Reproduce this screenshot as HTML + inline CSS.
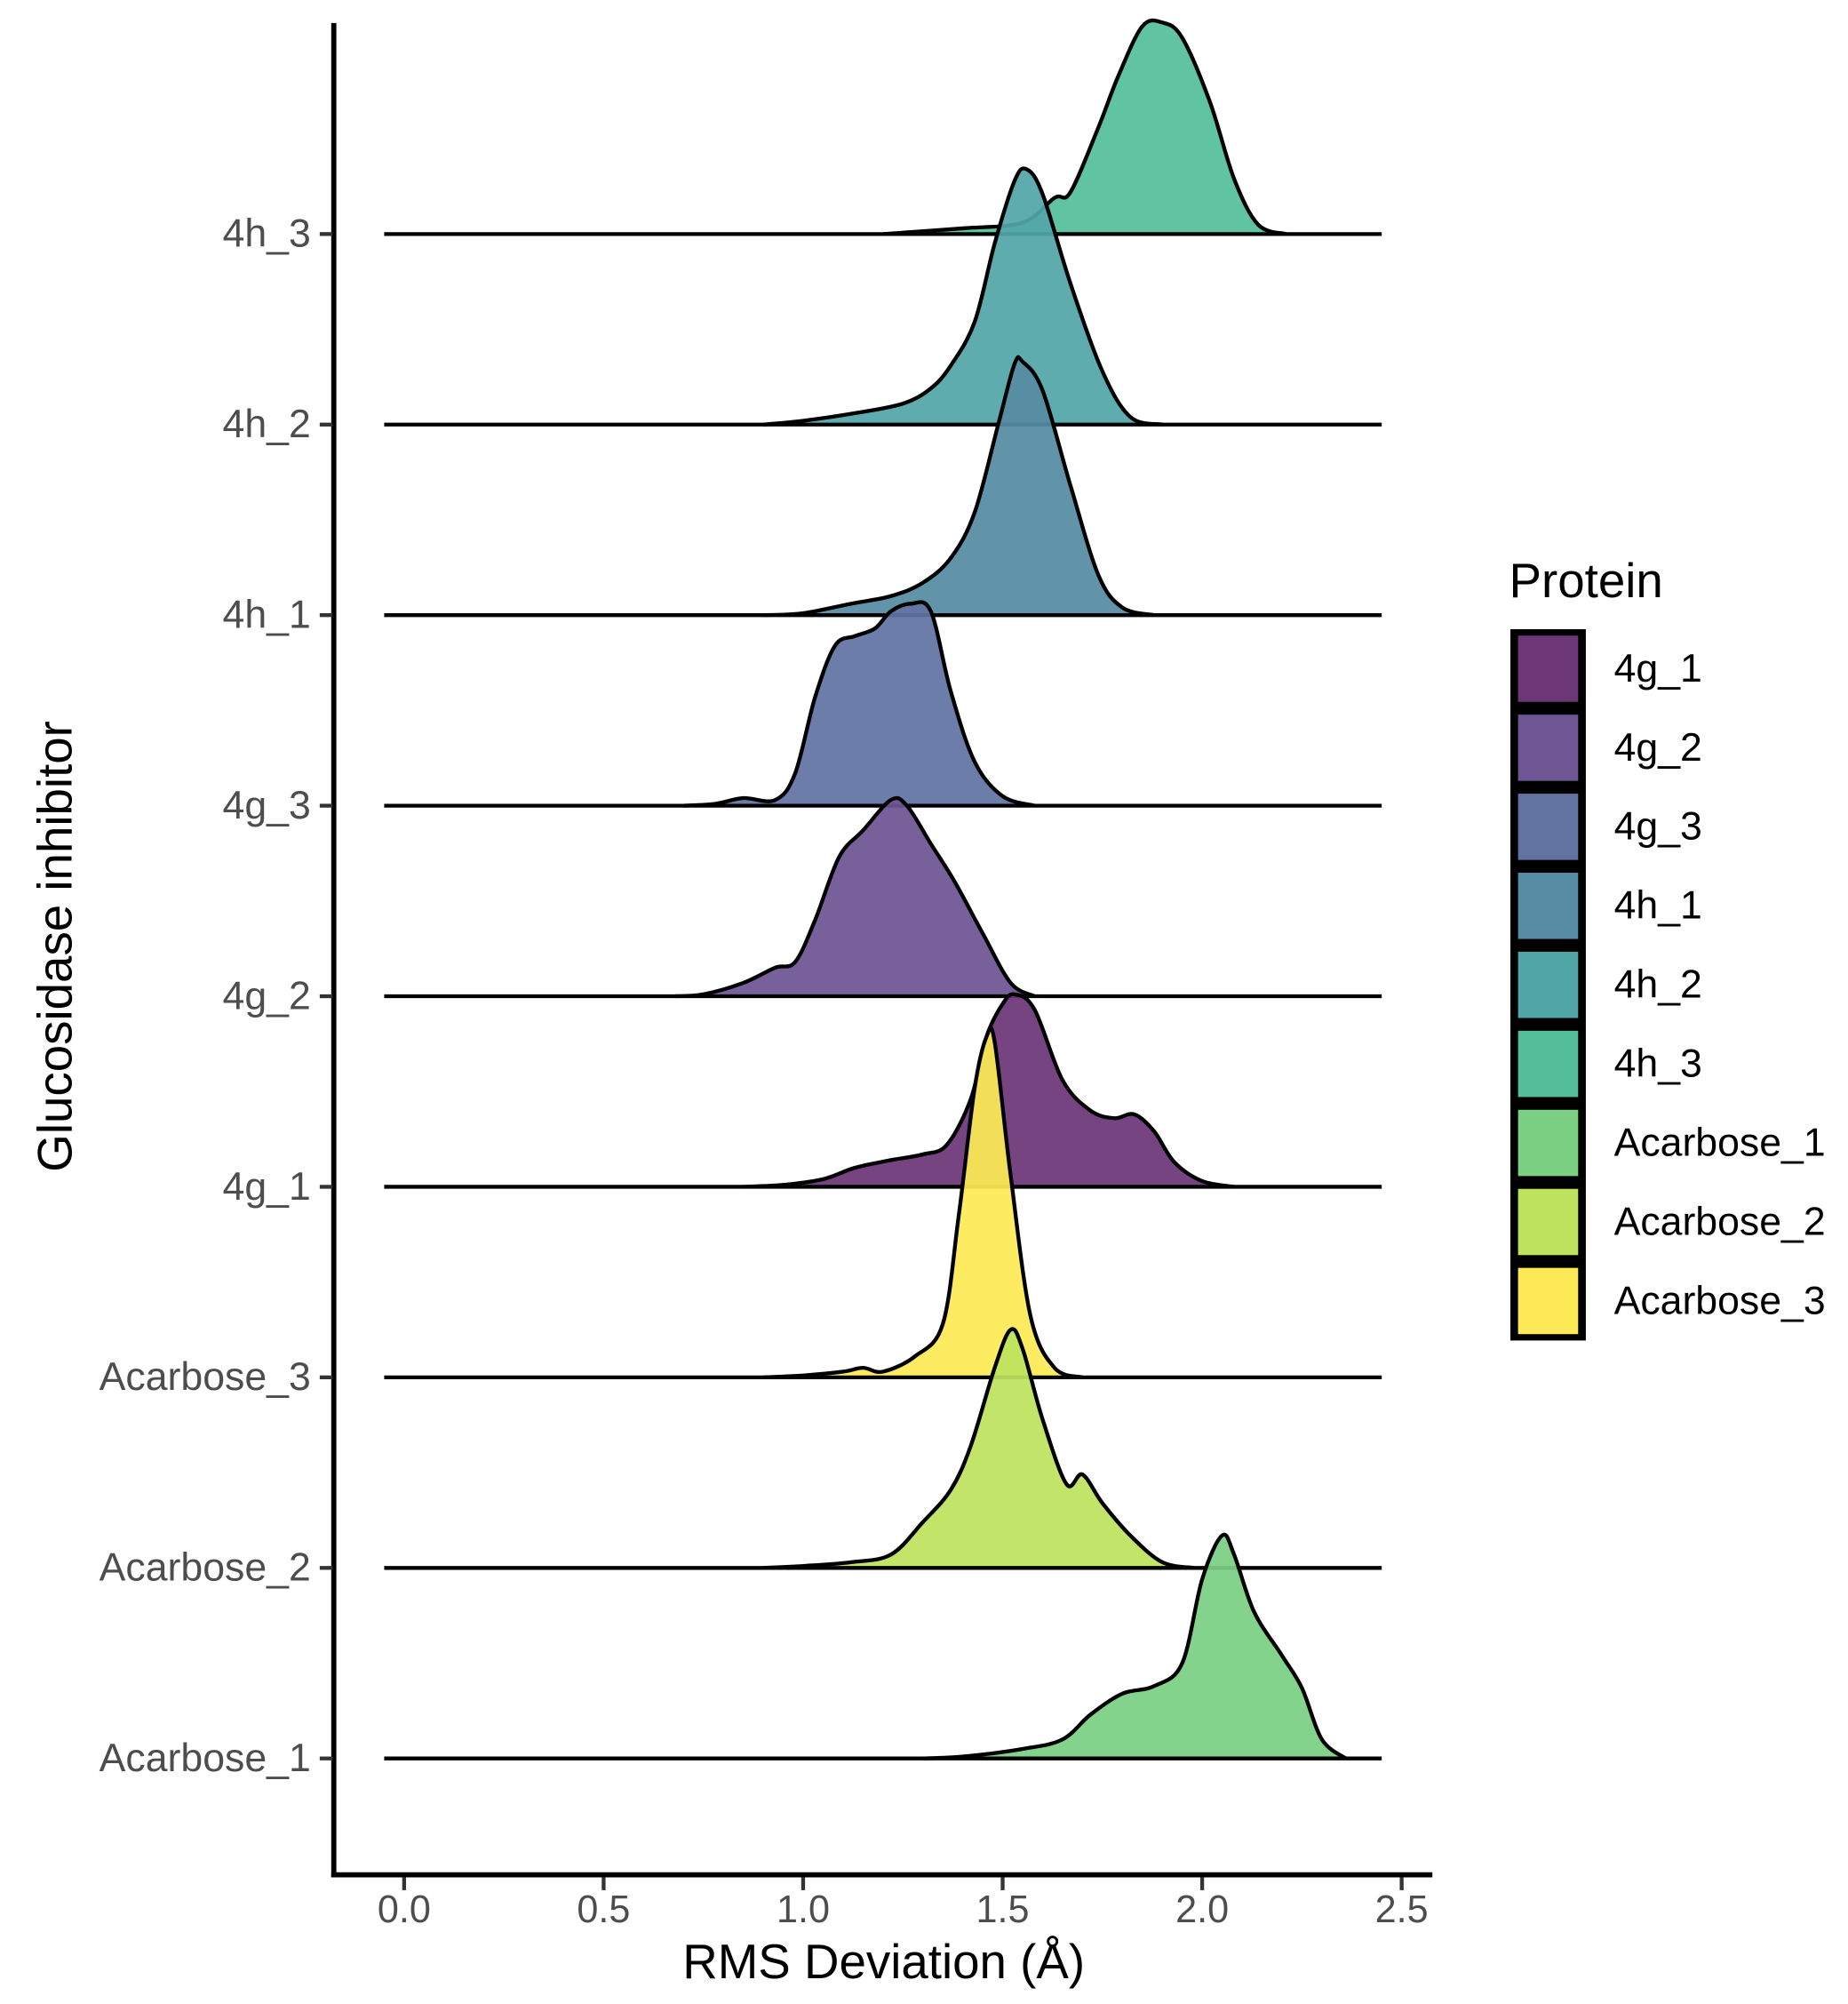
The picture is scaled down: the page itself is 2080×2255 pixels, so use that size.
<!DOCTYPE html>
<html><head><meta charset="utf-8"><style>
html,body{margin:0;padding:0;background:#fff;}
svg{display:block;}
text{font-family:"Liberation Sans",sans-serif;}
</style></head><body>
<svg id="chart" width="2080" height="2255" viewBox="0 0 1445 1567" preserveAspectRatio="none" xmlns="http://www.w3.org/2000/svg">
<g id="plot"></g>
<g id="axes"></g>
<g id="legend"></g>
</svg>
<script>
const categories = ["Acarbose_1","Acarbose_2","Acarbose_3","4g_1","4g_2","4g_3","4h_1","4h_2","4h_3"];
const colors = {"4g_1":"#6c3677","4g_2":"#6e5593","4g_3":"#6273a2","4h_1":"#568ca3","4h_2":"#53a6a8","4h_3":"#54be9b","Acarbose_1":"#7bd083","Acarbose_2":"#bce25e","Acarbose_3":"#fde955"};
const legendOrder = ["4g_1","4g_2","4g_3","4h_1","4h_2","4h_3","Acarbose_1","Acarbose_2","Acarbose_3"];
const xTicks = [0,0.5,1,1.5,2,2.5];
const xTickLabels = ["0.0","0.5","1.0","1.5","2.0","2.5"];
const dens_4h_3 = [[1.2,0],[1.4,0.03],[1.55,0.06],[1.63,0.19],[1.67,0.22],[1.74,0.56],[1.79,0.83],[1.85,1.09],[1.9,1.11],[1.95,1.03],[2.02,0.69],[2.08,0.29],[2.14,0.05],[2.21,0]];
const dens_4h_2 = [[0.9,0],[1.0,0.02],[1.13,0.06],[1.25,0.11],[1.32,0.19],[1.37,0.31],[1.43,0.54],[1.48,0.95],[1.53,1.28],[1.56,1.34],[1.6,1.21],[1.67,0.74],[1.75,0.28],[1.82,0.04],[1.9,0]];
const dens_4h_1 = [[0.9,0],[1.0,0.01],[1.12,0.06],[1.22,0.1],[1.3,0.17],[1.37,0.3],[1.43,0.54],[1.49,1.01],[1.53,1.32],[1.55,1.33],[1.6,1.18],[1.67,0.68],[1.74,0.21],[1.8,0.04],[1.88,0]];
const dens_4g_3 = [[0.7,0],[0.78,0.01],[0.85,0.04],[0.93,0.03],[0.98,0.17],[1.03,0.57],[1.08,0.84],[1.13,0.89],[1.18,0.93],[1.22,1.02],[1.27,1.06],[1.32,1.02],[1.37,0.6],[1.43,0.23],[1.5,0.05],[1.58,0]];
const dens_4g_2 = [[0.68,0],[0.75,0.01],[0.85,0.07],[0.93,0.15],[0.98,0.18],[1.03,0.4],[1.09,0.73],[1.15,0.87],[1.22,1.03],[1.26,1.0],[1.32,0.8],[1.38,0.6],[1.45,0.33],[1.52,0.07],[1.58,0]];
const dens_4g_1 = [[0.85,0],[0.95,0.01],[1.05,0.04],[1.13,0.1],[1.22,0.14],[1.3,0.17],[1.36,0.22],[1.42,0.46],[1.46,0.79],[1.5,0.96],[1.53,1.01],[1.58,0.93],[1.65,0.56],[1.72,0.4],[1.78,0.36],[1.83,0.38],[1.88,0.29],[1.93,0.13],[2.0,0.03],[2.08,0]];
const dens_Acarbose_3 = [[0.9,0],[1.0,0.01],[1.1,0.03],[1.15,0.05],[1.2,0.03],[1.28,0.11],[1.35,0.28],[1.39,0.85],[1.43,1.52],[1.46,1.79],[1.48,1.76],[1.52,1.06],[1.57,0.32],[1.63,0.05],[1.7,0]];
const dens_Acarbose_2 = [[0.9,0],[1.0,0.01],[1.12,0.03],[1.22,0.07],[1.3,0.24],[1.37,0.41],[1.42,0.64],[1.48,1.05],[1.52,1.25],[1.55,1.15],[1.6,0.78],[1.66,0.44],[1.7,0.49],[1.75,0.34],[1.82,0.17],[1.9,0.03],[1.98,0]];
const dens_Acarbose_1 = [[1.3,0],[1.4,0.01],[1.55,0.05],[1.65,0.1],[1.72,0.23],[1.8,0.34],[1.88,0.38],[1.95,0.5],[2.0,0.94],[2.05,1.17],[2.08,1.07],[2.13,0.77],[2.2,0.54],[2.25,0.37],[2.3,0.1],[2.36,0]];
const densities = {"4h_3":dens_4h_3,"4h_2":dens_4h_2,"4h_1":dens_4h_1,"4g_3":dens_4g_3,"4g_2":dens_4g_2,"4g_1":dens_4g_1,"Acarbose_3":dens_Acarbose_3,"Acarbose_2":dens_Acarbose_2,"Acarbose_1":dens_Acarbose_1};

const NS="http://www.w3.org/2000/svg";
const X0=316, XU=312;
const Y0=1375, ROW=149;
const xs = v => X0 + v*XU;
const base = i => Y0 - i*ROW;
const hs = h => h*ROW;
function mk(tag, attrs, parent){const e=document.createElementNS(NS,tag);for(const k in attrs)e.setAttribute(k,attrs[k]);parent.appendChild(e);return e;}
function smooth(pts){
  let d="M"+pts[0][0]+","+pts[0][1];
  for(let i=0;i<pts.length-1;i++){
    const p0=pts[Math.max(0,i-1)],p1=pts[i],p2=pts[i+1],p3=pts[Math.min(pts.length-1,i+2)];
    const c1x=p1[0]+(p2[0]-p0[0])/6,c1y=p1[1]+(p2[1]-p0[1])/6;
    const c2x=p2[0]-(p3[0]-p1[0])/6,c2y=p2[1]-(p3[1]-p1[1])/6;
    d+=" C"+c1x+","+c1y+" "+c2x+","+c2y+" "+p2[0]+","+p2[1];
  }
  return d;
}
const plot=document.getElementById('plot');
for(let i=categories.length-1;i>=0;i--){
  const c=categories[i], b=base(i);
  const pts=densities[c].map(p=>[xs(p[0]), b-hs(p[1])]);
  const g=mk('g',{},plot);
  
  
  const dcurve=smooth(pts);
  const area=mk('path',{d:dcurve+" L"+pts[pts.length-1][0]+","+b+" L"+pts[0][0]+","+b+" Z",fill:colors[c],'fill-opacity':0.93,stroke:'none'},g);
  
  
  const bl=mk('line',{x1:xs(-0.05),x2:xs(2.45),y1:b,y2:b,stroke:'#000','stroke-width':3},g);
  
  
  const ln=mk('path',{d:dcurve,fill:'none',stroke:'#000','stroke-width':3,'stroke-linejoin':'round'},g);
  
  
}
const axes=document.getElementById('axes');
const ya=mk('line',{x1:261,x2:261,y1:18,y2:1468,stroke:'#000','stroke-width':4},axes);


const xa=mk('line',{x1:259,x2:1120,y1:1466,y2:1466,stroke:'#000','stroke-width':4},axes);


categories.forEach((c,i)=>{
  const b=base(i);
  const t=mk('line',{x1:250,x2:260,y1:b,y2:b,stroke:'#333','stroke-width':3},axes);
  
  
  const tx=mk('text',{x:243,y:b+10,'text-anchor':'end','font-size':31,fill:'#4d4d4d'},axes);
  tx.textContent=c;
  
  
});
xTicks.forEach((v,i)=>{
  const t=mk('line',{x1:xs(v),x2:xs(v),y1:1468,y2:1478,stroke:'#333','stroke-width':3},axes);
  
  
  const tx=mk('text',{x:xs(v),y:1503,'text-anchor':'middle','font-size':30,fill:'#4d4d4d'},axes);
  tx.textContent=xTickLabels[i];
  
  
});
const xt=mk('text',{x:691,y:1547,'text-anchor':'middle','font-size':38,fill:'#000'},axes);
xt.textContent="RMS Deviation (Å)";


const yt=mk('text',{x:0,y:0,'text-anchor':'middle','font-size':38,fill:'#000',transform:'translate(56,740) rotate(-90)'},axes);
yt.textContent="Glucosidase inhibitor";


const leg=document.getElementById('legend');
const lt=mk('text',{x:1180,y:467,'font-size':38,fill:'#000'},leg);
lt.textContent="Protein";


const KT=492, KH=61.8;
mk('rect',{x:1181,y:KT,width:59,height:KH*9,fill:'#000'},leg);
legendOrder.forEach((c,i)=>{
  const y=KT+i*KH;
  const r=mk('rect',{x:1187,y:y+5,width:47,height:KH-10,fill:colors[c]},leg);
  
  
  const tx=mk('text',{x:1262,y:y+KH/2+10,'font-size':31,fill:'#000'},leg);
  tx.textContent=c;
  
  
});
</script>
</body></html>
